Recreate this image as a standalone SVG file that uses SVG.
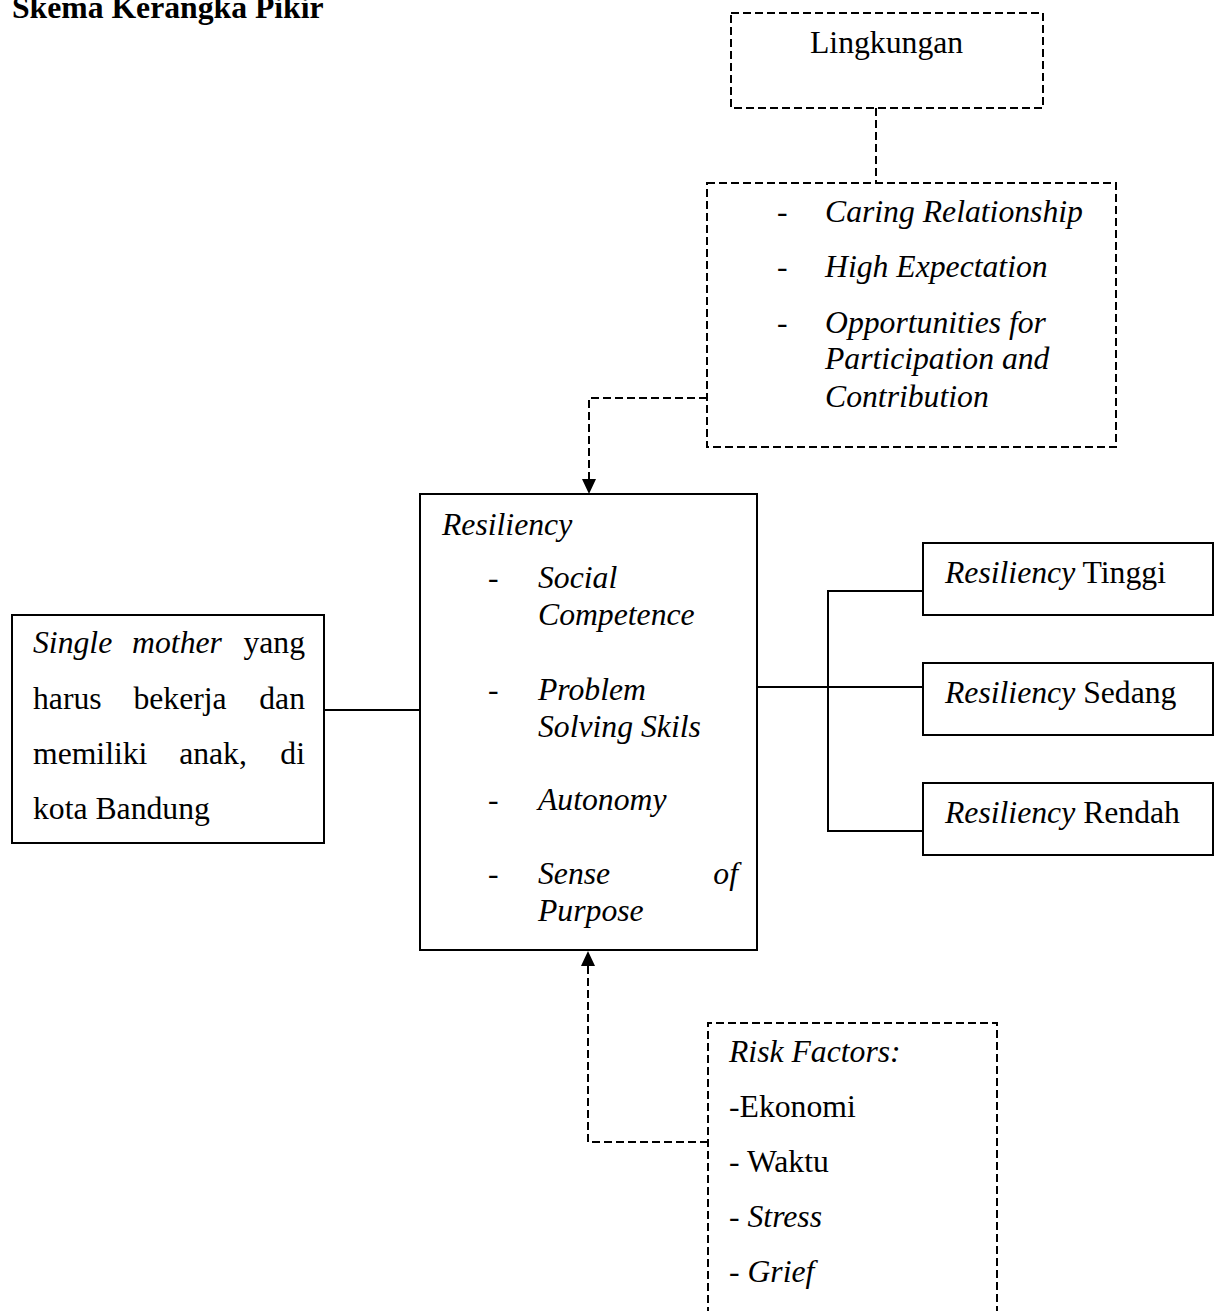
<svg xmlns="http://www.w3.org/2000/svg" width="1217" height="1311" viewBox="0 0 1217 1311">
<style>
text{font-family:"Liberation Serif","Times New Roman",serif;font-size:31.7px;fill:#000}
.i{font-style:italic}
.b{font-weight:bold}
.box{fill:none;stroke:#000;stroke-width:2}
.dbox{fill:none;stroke:#000;stroke-width:2;stroke-dasharray:8,4}
.ln{fill:none;stroke:#000;stroke-width:2}
.dln{fill:none;stroke:#000;stroke-width:2;stroke-dasharray:8,4}
</style>
<defs>
<marker id="arr" viewBox="0 0 15 14" refX="15" refY="7" markerWidth="15" markerHeight="14" markerUnits="userSpaceOnUse" orient="auto">
<path d="M0,0 L15,7 L0,14 Z" fill="#000"/>
</marker>
</defs>
<rect width="1217" height="1311" fill="#fff"/>
<text class="b" x="12" y="18">Skema Kerangka Pikir</text>

<g id="connectors">
<path class="dln" d="M876,108 V183"/>
<path class="dln" d="M707,398 H589 V494" marker-end="url(#arr)"/>
<path class="dln" d="M708,1142 H588 V951" marker-end="url(#arr)"/>
<path class="ln" d="M324,710 H420"/>
<path class="ln" d="M757,687 H923"/>
<path class="ln" d="M923,591 H828 V831 H923"/>
</g>

<g id="lingkungan">
<rect class="dbox" x="731" y="13" width="312" height="95"/>
<text x="810" y="53">Lingkungan</text>
</g>

<g id="protective">
<rect class="dbox" x="707" y="183" width="409" height="264"/>
<text x="777" y="222">-</text>
<text class="i" x="825" y="222">Caring Relationship</text>
<text x="777" y="277">-</text>
<text class="i" x="825" y="277">High Expectation</text>
<text x="777" y="333">-</text>
<text class="i" x="825" y="333">Opportunities for</text>
<text class="i" x="825" y="369">Participation and</text>
<text class="i" x="825" y="407">Contribution</text>
</g>

<g id="single-mother">
<rect class="box" x="12" y="615" width="312" height="228"/>
<text class="i" x="33" y="653">Single</text>
<text class="i" x="177" y="653" text-anchor="middle">mother</text>
<text x="305" y="653" text-anchor="end">yang</text>
<text x="33" y="709">harus</text>
<text x="180" y="709" text-anchor="middle">bekerja</text>
<text x="305" y="709" text-anchor="end">dan</text>
<text x="33" y="764">memiliki</text>
<text x="213" y="764" text-anchor="middle">anak,</text>
<text x="305" y="764" text-anchor="end">di</text>
<text x="33" y="819">kota Bandung</text>
</g>

<g id="resiliency">
<rect class="box" x="420" y="494" width="337" height="456"/>
<text class="i" x="442" y="535">Resiliency</text>
<text x="488" y="588">-</text>
<text class="i" x="538" y="588">Social</text>
<text class="i" x="538" y="625">Competence</text>
<text x="488" y="700">-</text>
<text class="i" x="538" y="700">Problem</text>
<text class="i" x="538" y="737">Solving Skils</text>
<text x="488" y="810">-</text>
<text class="i" x="538" y="810">Autonomy</text>
<text x="488" y="884">-</text>
<text class="i" x="538" y="884">Sense</text>
<text class="i" x="738" y="884" text-anchor="end">of</text>
<text class="i" x="538" y="921">Purpose</text>
</g>

<g id="tinggi">
<rect class="box" x="923" y="543" width="290" height="72"/>
<text x="945" y="583"><tspan class="i">Resiliency</tspan> Tinggi</text>
</g>
<g id="sedang">
<rect class="box" x="923" y="663" width="290" height="72"/>
<text x="945" y="703"><tspan class="i">Resiliency</tspan> Sedang</text>
</g>
<g id="rendah">
<rect class="box" x="923" y="783" width="290" height="72"/>
<text x="945" y="823"><tspan class="i">Resiliency</tspan> Rendah</text>
</g>

<g id="risk-factors">
<path class="dbox" d="M708,1315 V1023 H997 V1315"/>
<text class="i" x="729" y="1062">Risk Factors:</text>
<text x="729" y="1117">-Ekonomi</text>
<text x="729" y="1172">- Waktu</text>
<text x="729" y="1227">- <tspan class="i">Stress</tspan></text>
<text x="729" y="1282">- <tspan class="i">Grief</tspan></text>
</g>
</svg>
